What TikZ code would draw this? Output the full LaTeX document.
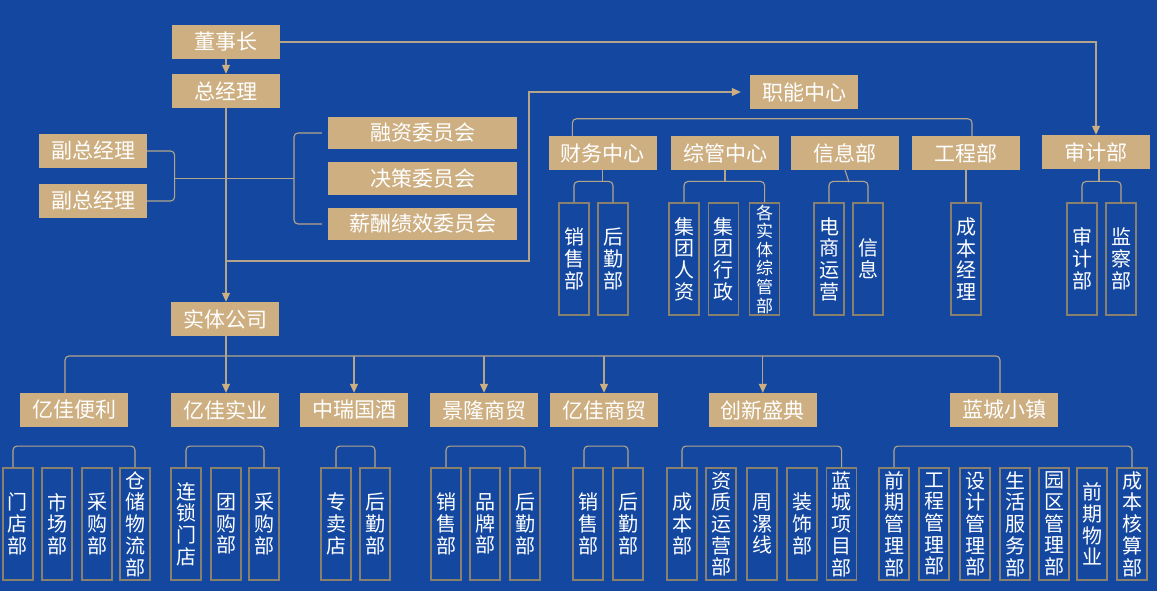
\documentclass[tikz,border=0pt]{standalone}
\usepackage{fontspec}
\setmainfont{Noto Sans CJK SC}
\usetikzlibrary{arrows.meta}
\definecolor{bg}{HTML}{1448A0}
\definecolor{tanc}{HTML}{CDAF82}
\definecolor{lnc}{HTML}{B4A58A}
\definecolor{bdc}{HTML}{8A806E}
\begin{document}
\begin{tikzpicture}[x=1pt,y=-1pt,
 tbox/.style={fill=tanc, text=white, minimum width=108pt, minimum height=34pt, inner sep=0pt, font=\fontsize{21}{21}\selectfont},
 wbox/.style={tbox, minimum width=189pt, minimum height=32pt},
 vbox/.style={draw=bdc, line width=1.1pt, text=white, minimum width=30pt, minimum height=112pt, inner sep=0pt, align=center, font=\fontsize{20}{21.7}\selectfont},
 vsmall/.style={vbox, font=\fontsize{17}{18.6}\selectfont},
 conn/.style={draw=lnc, line width=1.1pt},
 brk/.style={conn, rounded corners=4pt},
 arr/.style={conn, -{Triangle[width=8pt,length=9pt,color=tanc]}}
]
\fill[bg] (0,0) rectangle (1157,591);
\useasboundingbox (0,0) rectangle (1157,591);

% top level
\node[tbox] (dsz) at (226,42) {董事长};
\node[tbox] (zjl) at (226,91) {总经理};
\node[tbox] (fz1) at (93,151) {副总经理};
\node[tbox] (fz2) at (93,201) {副总经理};
\node[wbox] (rz) at (422.5,133) {融资委员会};
\node[wbox] (jc) at (422.5,178.5) {决策委员会};
\node[wbox] (xc) at (422.5,224) {薪酬绩效委员会};
\node[tbox] (znzx) at (804,92) {职能中心};
\node[tbox] (stgs) at (225,319) {实体公司};

% functional centers
\node[tbox] (cw) at (602.6,153) {财务中心};
\node[tbox] (zg) at (725,153) {综管中心};
\node[tbox] (xx) at (845,153) {信息部};
\node[tbox] (gcb) at (966,153) {工程部};
\node[tbox] (sjb) at (1096,152) {审计部};

% functional children
\node[vbox] (xs1) at (574,259) {销\\售\\部};
\node[vbox] (hq1) at (613,259) {后\\勤\\部};
\node[vbox] (rz1) at (684,259) {集\\团\\人\\资};
\node[vbox] (xz1) at (723.5,259) {集\\团\\行\\政};
\node[vsmall] (gs1) at (764.6,259) {各\\实\\体\\综\\管\\部};
\node[vbox] (ds1) at (829,259) {电\\商\\运\\营};
\node[vbox] (xi1) at (868,259) {信\\息};
\node[vbox] (cb1) at (966,259) {成\\本\\经\\理};
\node[vbox] (sj1) at (1082,259) {审\\计\\部};
\node[vbox] (jc1) at (1121,259) {监\\察\\部};

% companies
\node[tbox] (yjbl) at (74,410) {亿佳便利};
\node[tbox] (yjsy) at (225,410) {亿佳实业};
\node[tbox] (zrgj) at (354,410) {中瑞国酒};
\node[tbox] (jlsm) at (484,410) {景隆商贸};
\node[tbox] (yjsm) at (604,410) {亿佳商贸};
\node[tbox] (cxsd) at (762.8,410) {创新盛典};
\node[tbox] (lcxz) at (1004,410) {蓝城小镇};

% company children
\node[vbox] (a1) at (18,524) {门\\店\\部};
\node[vbox] (a2) at (57,524) {市\\场\\部};
\node[vbox] (a3) at (97,524) {采\\购\\部};
\node[vbox] (a4) at (135,524) {仓\\储\\物\\流\\部};
\node[vbox] (b1) at (186,524) {连\\锁\\门\\店};
\node[vbox] (b2) at (226,524) {团\\购\\部};
\node[vbox] (b3) at (264,524) {采\\购\\部};
\node[vbox] (c1) at (336,524) {专\\卖\\店};
\node[vbox] (c2) at (375,524) {后\\勤\\部};
\node[vbox] (d1) at (446,524) {销\\售\\部};
\node[vbox] (d2) at (485,524) {品\\牌\\部};
\node[vbox] (d3) at (525,524) {后\\勤\\部};
\node[vbox] (e1) at (588,524) {销\\售\\部};
\node[vbox] (e2) at (628,524) {后\\勤\\部};
\node[vbox] (f1) at (682,524) {成\\本\\部};
\node[vbox] (f2) at (721,524) {资\\质\\运\\营\\部};
\node[vbox] (f3) at (762,524) {周\\漯\\线};
\node[vbox] (f4) at (802,524) {装\\饰\\部};
\node[vbox] (f5) at (841.6,524) {蓝\\城\\项\\目\\部};
\node[vbox] (g1) at (894,524) {前\\期\\管\\理\\部};
\node[vbox] (g2) at (934,524) {工\\程\\管\\理\\部};
\node[vbox] (g3) at (975,524) {设\\计\\管\\理\\部};
\node[vbox] (g4) at (1015,524) {生\\活\\服\\务\\部};
\node[vbox] (g5) at (1054,524) {园\\区\\管\\理\\部};
\node[vbox] (g6) at (1092,524) {前\\期\\物\\业};
\node[vbox] (g7) at (1132,524) {成\\本\\核\\算\\部};

% junction coordinates
\coordinate (fm) at (174.6,178.5);
\coordinate (cm) at (294,178.5);
\coordinate (j1) at (226,261);
\coordinate (j2) at (529,261);
\coordinate (bus) at (226,356);

% top connectors
\draw[arr] (dsz.south) -- (zjl.north);
\draw[arr] (dsz.east) -| (sjb.north);
\draw[arr] (zjl.south) -- (zjl.south |- stgs.north);
\draw[arr] (j1) -- (j2) |- ([xshift=-9pt]znzx.west);
\draw[brk] (fz1.east) -| (fm) |- (fz2.east);
\draw[brk] ([xshift=-6pt]rz.west) -| (cm) |- ([xshift=-6pt]xc.west);
\draw[conn] (fm) -- (cm);

% functional center bracket
\draw[brk] ([xshift=24pt]cw.north west) -- ++(0,-17) -| ([xshift=6pt]gcb.north);

% functional children brackets
\draw[conn] (cw.south) -- ++(0,12);
\draw[brk] (xs1.north) -- ++(0,-21) -| (hq1.north);
\draw[conn] (zg.south) -- ++(0,12);
\draw[brk] (rz1.north) -- ++(0,-21) -| (gs1.north);
\draw[conn] (xx.south) -- ++(4,12);
\draw[brk] (ds1.north) -- ++(0,-21) -| (xi1.north);
\draw[conn] (gcb.south) -- (cb1.north);
\draw[conn] ([xshift=3pt]sjb.south) -- ++(0,13);
\draw[brk] (sj1.north) -- ++(0,-21) -| (jc1.north);

% companies bus
\draw[conn] (bus |- stgs.south) -- (bus);
\draw[brk] ([xshift=-9pt]yjbl.north) |- (bus) -| ([xshift=-4pt]lcxz.north);
\draw[arr] (bus) -- (bus |- yjsy.north);
\draw[arr] (zrgj.north |- bus) -- (zrgj.north);
\draw[arr] (jlsm.north |- bus) -- (jlsm.north);
\draw[arr] (yjsm.north |- bus) -- (yjsm.north);
\draw[arr] (cxsd.north |- bus) -- (cxsd.north);

% company children brackets
\draw[brk] ([xshift=-5pt]a1.north) -- ++(0,-21.4) -| (a4.north);
\draw[brk] (b1.north) -- ++(0,-21.4) -| (b3.north);
\draw[brk] (c1.north) -- ++(0,-21.4) -| (c2.north);
\draw[brk] (d1.north) -- ++(0,-21.4) -| (d3.north);
\draw[brk] ([xshift=-4pt]e1.north) -- ++(0,-21.4) -| (e2.north);
\draw[brk] (f1.north) -- ++(0,-21.4) -| (f5.north);
\draw[brk] (g1.north) -- ++(0,-21.4) -| (g7.north);
\end{tikzpicture}
\end{document}
